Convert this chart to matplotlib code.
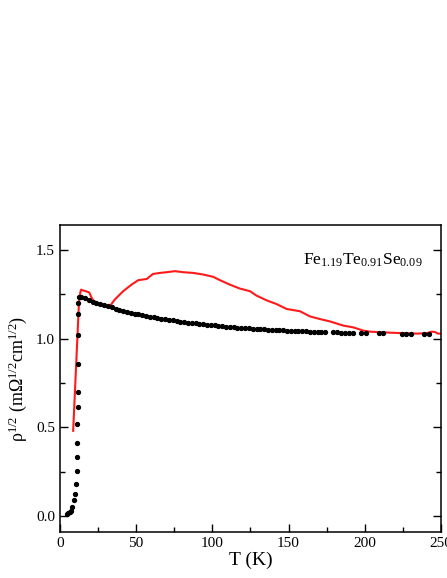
import matplotlib
matplotlib.use("Agg")
import matplotlib.pyplot as plt
from matplotlib.ticker import MultipleLocator

plt.rcParams['font.family'] = ['Liberation Serif', 'DejaVu Serif']
plt.rcParams['mathtext.fontset'] = 'custom'
plt.rcParams['mathtext.rm'] = 'Liberation Serif'
plt.rcParams['mathtext.it'] = 'Liberation Serif:italic'

# black dots: low-T transition
t_low = [4.4, 5.3, 6.3, 7.3, 8.1, 9.2, 9.6, 10.3, 10.9, 11.2, 11.4, 11.5,
         11.6, 11.8, 11.8, 11.9, 12.0, 12.2, 12.6]
r_low = [0.010, 0.016, 0.022, 0.028, 0.051, 0.090, 0.122, 0.181, 0.252, 0.335,
         0.414, 0.518, 0.614, 0.700, 0.858, 1.018, 1.139, 1.200, 1.235]

# black dots: normal state
t_norm = [14, 16.5, 19, 21.5, 24, 26.5, 29, 31.5, 34, 36.5, 39, 41.5, 44, 46.5,
          49, 51.5, 54, 56.5, 59, 61.5, 64, 66.5, 69, 71.5, 74, 76.5, 79, 81.5,
          84, 86.5, 89, 91.5, 94, 96.5, 99, 101.5, 104, 106.5, 109, 111.5, 114,
          116.5, 119, 121.5, 124, 126.5, 129, 131.5, 134, 136.5, 139, 141.5,
          144, 146.5, 149, 151.5, 154, 156.5, 159, 161.5, 164, 166.5, 169,
          171.5, 174,
          179.3, 182, 184.6, 187.2, 189.8, 192, 197.5, 200.6, 209.3, 212.2,
          224.4, 227, 230.3, 239, 242]
r_norm = [1.237, 1.228, 1.216, 1.207, 1.200, 1.194, 1.188, 1.182, 1.176, 1.169,
          1.162, 1.156, 1.151, 1.146, 1.141, 1.137, 1.133, 1.128, 1.124, 1.120,
          1.116, 1.113, 1.110, 1.107, 1.103, 1.099, 1.096, 1.093, 1.090, 1.088,
          1.085, 1.083, 1.080, 1.078, 1.076, 1.074, 1.072, 1.070, 1.068, 1.066,
          1.064, 1.062, 1.061, 1.059, 1.058, 1.056, 1.055, 1.053, 1.052, 1.051,
          1.049, 1.048, 1.047, 1.046, 1.045, 1.044, 1.043, 1.042, 1.041, 1.040,
          1.039, 1.038, 1.037, 1.037, 1.036,
          1.035, 1.035, 1.034, 1.034, 1.033, 1.033, 1.031, 1.031, 1.029, 1.029,
          1.027, 1.027, 1.026, 1.024, 1.025]

# red curve
t_red = [8.7, 12.5, 13.5, 14, 15.5, 17, 19.2, 21.4, 24, 28.4, 32.4, 36, 41.5,
         47, 51.4, 57, 61, 65.6, 70, 75.5, 81, 87.5, 94, 100.6, 105, 111.5,
         118, 124.7, 129, 136, 142, 148.7, 157.5, 164, 170.6, 177, 186, 192.5,
         199, 203.5, 212, 223, 234, 240.6, 244, 246, 248, 250]
r_red = [0.48, 1.20, 1.265, 1.276, 1.27, 1.267, 1.26, 1.22, 1.20, 1.186, 1.178,
         1.22, 1.267, 1.304, 1.329, 1.336, 1.364, 1.37, 1.374, 1.38, 1.374,
         1.37, 1.361, 1.348, 1.329, 1.304, 1.282, 1.267, 1.242, 1.214, 1.195,
         1.167, 1.154, 1.125, 1.11, 1.097, 1.073, 1.063, 1.045, 1.039, 1.035,
         1.031, 1.028, 1.03, 1.039, 1.037, 1.028, 1.028]

fig = plt.figure(figsize=(4.47, 5.78), dpi=100)
ax = fig.add_axes([0.134, 0.0796, 0.8526, 0.5311])

ax.plot(t_red, r_red, '-', color='#ff1a1a', lw=1.5, zorder=2)
ax.plot(t_low + t_norm, r_low + r_norm, 'o', color='black', ms=2.8,
        mec='black', zorder=3)

ax.set_xlim(0, 250)
ax.set_ylim(-0.09, 1.64)
ax.xaxis.set_major_locator(MultipleLocator(50))
ax.xaxis.set_minor_locator(MultipleLocator(25))
ax.yaxis.set_major_locator(MultipleLocator(0.5))
ax.yaxis.set_minor_locator(MultipleLocator(0.25))
ax.yaxis.set_major_formatter(plt.FuncFormatter(lambda v, p: f'{v:.1f}'))
ax.tick_params(which='both', direction='in', right=True, top=False,
               labelsize=11, width=1)
ax.tick_params(which='major', length=6)
ax.tick_params(which='minor', length=3.5)
for s in ax.spines.values():
    s.set_linewidth(1.1)

ax.set_xlabel('T (K)', fontsize=14, labelpad=1)
ax.set_ylabel(r'$\mathregular{\rho^{1/2}\ (m\Omega^{1/2}cm^{1/2})}$',
              fontsize=13, labelpad=5)
ax.text(159.3, 1.417, r'$\mathregular{Fe_{1.19}Te_{0.91}Se_{0.09}}$',
        fontsize=12.5)

fig.savefig('out.png', dpi=100)
